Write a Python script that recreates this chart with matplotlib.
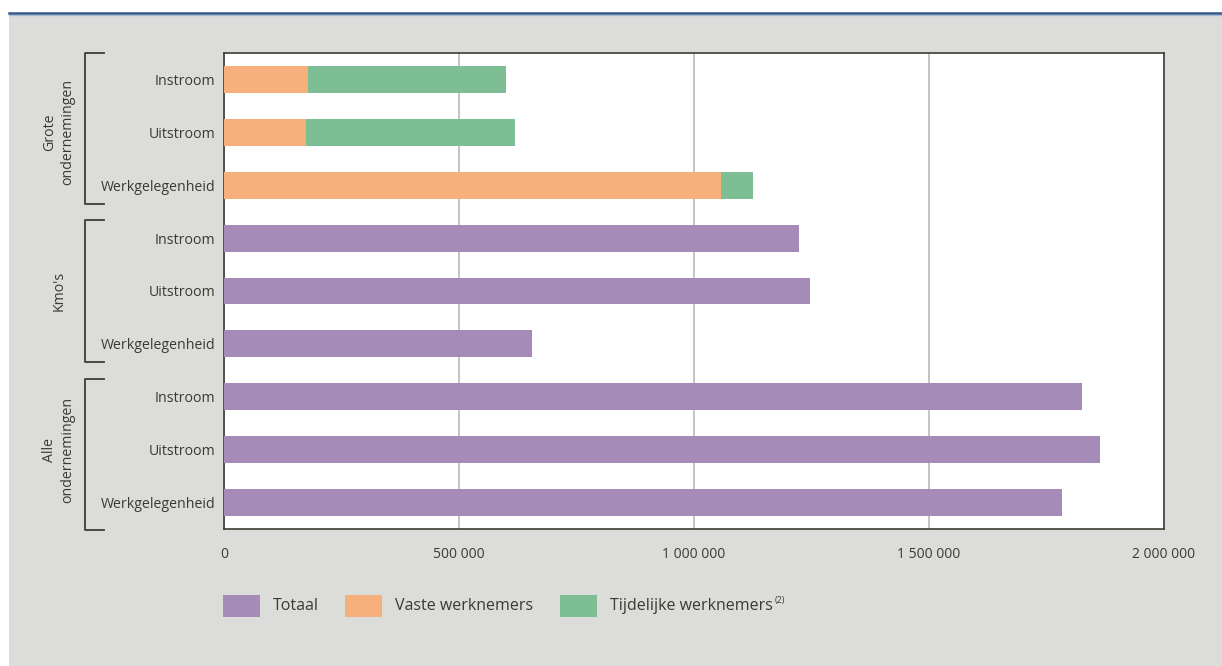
import matplotlib.pyplot as plt
from matplotlib.patches import Rectangle
from matplotlib.transforms import blended_transform_factory

plt.rcParams['font.family'] = ['Open Sans', 'DejaVu Sans']

groups = ["Grote\nondernemingen", "Kmo's", "Alle\nondernemingen"]
rows = ["Instroom", "Uitstroom", "Werkgelegenheid"]
xticks = [0, 500000, 1000000, 1500000, 2000000]
xticklabels = ["0", "500 000", "1 000 000", "1 500 000", "2 000 000"]

# grote ondernemingen: vaste + tijdelijke
vaste = [179000, 174000, 1057000]
tijdelijke = [421000, 445000, 68000]
# kmo's and alle ondernemingen: totaal
totaal_kmo = [1223000, 1247000, 655000]
totaal_alle = [1825000, 1864000, 1783000]

PURPLE = "#a58bb8"
ORANGE = "#f6b07c"
GREEN = "#7dbe95"
BG = "#dcdcda"
TXT = "#3a3a30"

W, H = 1222, 666
fig = plt.figure(figsize=(W / 100, H / 100), dpi=100)
fig.patch.set_facecolor("white")
fig.patches.append(Rectangle((9 / W, 0), 1, (H - 14) / H, transform=fig.transFigure,
                             facecolor=BG, edgecolor="none", zorder=-5))
fig.add_artist(plt.Line2D([9 / W, 1], [(H - 12.6) / H] * 2, color="#34558a", lw=1.8))
fig.add_artist(plt.Line2D([9 / W, 1], [(H - 14.5) / H] * 2, color="#a7b9d2", lw=0.9))

ax = fig.add_axes([224 / W, (H - 529) / H, 940 / W, 476 / H])
ax.set_facecolor("white")

h = 0.51
y_gr = [0, 1, 2]
y_kmo = [3, 4, 5]
y_alle = [6, 7, 8]
ax.barh(y_gr, vaste, height=h, color=ORANGE, zorder=3)
ax.barh(y_gr, tijdelijke, left=vaste, height=h, color=GREEN, zorder=3)
ax.barh(y_kmo, totaal_kmo, height=h, color=PURPLE, zorder=3)
ax.barh(y_alle, totaal_alle, height=h, color=PURPLE, zorder=3)

ax.set_xlim(0, 2000000)
ax.set_ylim(8.5, -0.5)
ax.set_xticks(xticks)
ax.set_xticklabels(xticklabels, fontsize=10, color=TXT)
ax.set_yticks(range(9))
ax.set_yticklabels(rows * 3, fontsize=10.2, color=TXT)
ax.tick_params(length=0)
ax.tick_params(axis="x", pad=13)
ax.tick_params(axis="y", pad=6)
ax.grid(axis="x", color="#c4c4c4", lw=1.4, zorder=1)
for s in ax.spines.values():
    s.set_color("#3d3d33")
    s.set_linewidth(1.2)

# group brackets
tr = blended_transform_factory(ax.transAxes, ax.transData)
xb = (85 - 224) / 940
xe = (104 - 224) / 940
xl = (59 - 224) / 940
for g, name in enumerate(groups):
    y0 = g * 3 - 0.5 + (0.16 if g > 0 else 0)
    y1 = g * 3 + 2.5 - (0.15 if g < 2 else -0.02)
    ax.plot([xe, xb, xb, xe], [y0, y0, y1, y1], color="#3d3d33", lw=1.3,
            transform=tr, clip_on=False)
    ax.text(xl, g * 3 + 1, name, rotation=90, ha="center", va="center",
            fontsize=10.2, color=TXT, transform=tr, linespacing=1.3)

# legend
items = [(223, PURPLE, "Totaal"), (345, ORANGE, "Vaste werknemers"),
         (560, GREEN, "Tijdelijke werknemers")]
for x, c, lab in items:
    fig.patches.append(Rectangle((x / W, (H - 617) / H), 37 / W, 22 / H,
                                 transform=fig.transFigure, facecolor=c, edgecolor="none"))
    fig.text((x + 50) / W, (H - 606) / H, lab, fontsize=11.5, color=TXT, va="center")
fig.text(775 / W, (H - 601) / H, "(2)", fontsize=6.5, color=TXT, va="center")

fig.savefig("out.png", dpi=100, facecolor=fig.get_facecolor())
